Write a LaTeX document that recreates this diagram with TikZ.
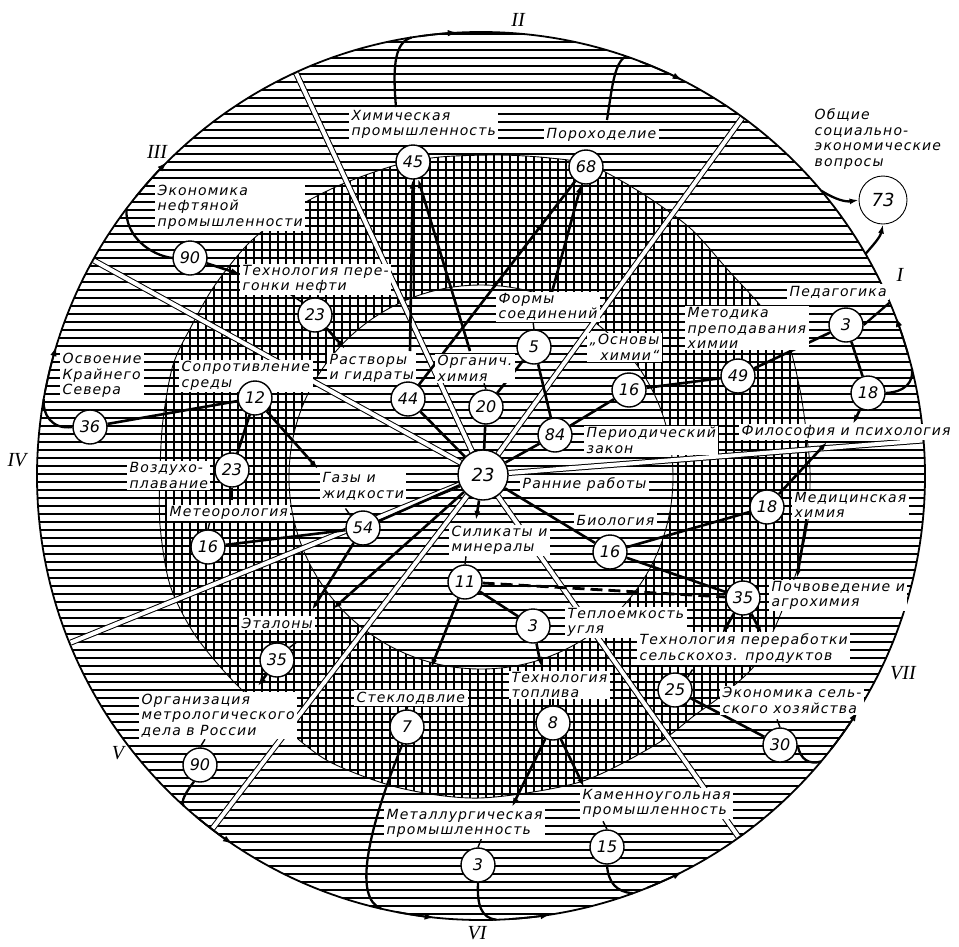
\documentclass[tikz,border=0pt]{standalone}
\usepackage{fontspec}
\setmainfont{DejaVu Sans}
\newfontfamily\labfam[LetterSpace=8]{DejaVu Sans}
\newfontfamily\numfam{DejaVu Sans}
\newfontfamily\romfam{Liberation Serif}
\usetikzlibrary{arrows.meta,decorations.markings,calc}
\pgfdeclarelayer{hatchlayer}
\pgfdeclarelayer{lablayer}
\pgfdeclarelayer{nodelayer}
\pgfsetlayers{hatchlayer,main,lablayer,nodelayer}
\newcommand\labsize{\labfam\itshape\fontsize{14}{15.5}\selectfont}
\newcommand\numsize{\numfam\itshape\fontsize{16}{16}\selectfont}
\newcommand\bignumsize{\numfam\itshape\fontsize{18}{18}\selectfont}
\newcommand\romsize{\romfam\itshape\fontsize{20}{20}\selectfont}
\newcommand\myCircArrow[2]{\draw[line width=1.8pt,-{Latex[length=10pt,width=6.5pt]}] ($(O)+(#1:444)$) arc[start angle=#1, end angle=#2, radius=444];}
\tikzset{
  hatch/.style={line width=1.25pt},
  bound/.style={line width=0.9pt},
  num/.style={circle, draw, line width=1.4pt, fill=white, minimum size=34pt, inner sep=0pt, font=\numsize},
  lab/.style={fill=white, inner xsep=2.5pt, inner ysep=1.5pt, align=left, font=\labsize, anchor=west},
  rom/.style={font=\romsize},
  edge/.style={line width=2.6pt},
  tick/.style={line width=1.4pt},
  tip/.style={-{Latex[length=9pt,width=6pt]}},
  sep/.style={draw=black, double=white, line width=1pt, double distance=4pt},
  midarrow/.style={postaction={decorate}, decoration={markings, mark=at position #1 with {\arrow{Latex[length=9pt,width=6pt]}}}},
  flowline/.style={line width=2.3pt},
}
\begin{document}
\begin{tikzpicture}[x=1pt,y=-1pt]
\useasboundingbox (0,0) rectangle (959,946);
\coordinate (O) at (481,476);
\coordinate (I) at (481,477);

% ---------------- hatching ----------------
\begin{pgfonlayer}{hatchlayer}
 \fill[white] (0,0) rectangle (959,946);
 \begin{scope}
  \clip (O) circle[radius=444];
  \foreach \y in {34,42,...,922} \draw[hatch] (30,\y) -- (932,\y);
 \end{scope}
 \begin{scope}
  \clip plot[smooth cycle] coordinates {(396,165) (440,157) (500,155) (550,158) (590,165) (640,192) (690,228) (728,270) (760,305) (787,340) (800,390) (806,430) (810,470) (808,520) (797,570) (776,625) (755,665) (725,693) (695,715) (655,745) (580,782) (480,798) (400,788) (330,762) (285,728) (235,683) (195,635) (170,585) (160,525) (160,470) (163,420) (173,365) (192,325) (215,285) (250,242) (292,210) (340,185)};
  \foreach \x in {150,158,...,830} \draw[hatch] (\x,140) -- (\x,810);
 \end{scope}
 \draw[bound] plot[smooth cycle] coordinates {(396,165) (440,157) (500,155) (550,158) (590,165) (640,192) (690,228) (728,270) (760,305) (787,340) (800,390) (806,430) (810,470) (808,520) (797,570) (776,625) (755,665) (725,693) (695,715) (655,745) (580,782) (480,798) (400,788) (330,762) (285,728) (235,683) (195,635) (170,585) (160,525) (160,470) (163,420) (173,365) (192,325) (215,285) (250,242) (292,210) (340,185)};
 \fill[white] (I) circle[radius=192];
 \begin{scope}
  \clip (I) circle[radius=192];
  \foreach \y in {34,42,...,922} \draw[hatch] (280,\y) -- (680,\y);
 \end{scope}
 \draw[bound] (I) circle[radius=192];
\end{pgfonlayer}

% ---------------- number nodes ----------------
\begin{pgfonlayer}{nodelayer}
\node[num, minimum size=50pt, font=\bignumsize] (n23c) at (483,475) {23};
\node[num] (n45) at (413,162) {45};
\node[num] (n68) at (586,167) {68};
\node[num, minimum size=48pt, line width=0.9pt, font=\bignumsize] (n73) at (883,200) {73};
\node[num] (n90a) at (190,258) {90};
\node[num] (n23b) at (315,315) {23};
\node[num] (n5) at (534,347) {5};
\node[num] (n3a) at (846,325) {3};
\node[num] (n49) at (738,376) {49};
\node[num] (n18a) at (868,393) {18};
\node[num] (n16a) at (629,390) {16};
\node[num] (n84) at (555,435) {84};
\node[num] (n20) at (486,407) {20};
\node[num] (n44) at (408,399) {44};
\node[num] (n12) at (255,398) {12};
\node[num] (n36) at (90,427) {36};
\node[num] (n23d) at (232,470) {23};
\node[num] (n16b) at (208,547) {16};
\node[num] (n54) at (363,528) {54};
\node[num] (n11) at (465,582) {11};
\node[num] (n3b) at (533,626) {3};
\node[num] (n16c) at (610,552) {16};
\node[num] (n18b) at (767,507) {18};
\node[num] (n35a) at (743,598) {35};
\node[num] (n25) at (675,690) {25};
\node[num] (n30) at (780,745) {30};
\node[num] (n35b) at (277,660) {35};
\node[num] (n90b) at (200,765) {90};
\node[num] (n7) at (407,727) {7};
\node[num] (n8) at (553,723) {8};
\node[num] (n3c) at (478,865) {3};
\node[num] (n15) at (607,847) {15};
\end{pgfonlayer}

% ---------------- labels ----------------
\begin{pgfonlayer}{lablayer}
\node[lab] (L1) at (349,124.5) {Химическая\\промышленность};
\node[lab] (L2) at (544,135) {Пороходелие};
\node[lab, fill=none] (L3) at (812,139) {Общие\\социально-\\экономические\\вопросы};
\node[lab] (L4) at (155,207) {Экономика\\нефтяной\\промышленности};
\node[lab] (L5) at (240,279.5) {Технология пере-\\гонки нефти};
\node[lab] (L6) at (179,376) {Сопротивление\\среды};
\node[lab] (L7) at (60,375.5) {Освоение\\Крайнего\\Севера};
\node[lab] (L8) at (327,368.5) {Растворы\\и гидраты};
\node[lab] (L9) at (435,368.5) {Органич.\\химия};
\node[lab] (L10) at (496,307) {Формы\\соединений};
\node[lab, align=right] (L11) at (587,347.5) {„Основы\\химии“};
\node[lab] (L12) at (685,328) {Методика\\преподавания\\химии};
\node[lab] (L13) at (787,292) {Педагогика};
\node[lab] (L14) at (584,440.5) {Периодический\\закон};
\node[lab] (L15) at (739,432) {Философия и психология};
\node[lab] (L16) at (520,485) {Ранние работы};
\node[lab] (L17) at (574,520) {Биология};
\node[lab] (L18) at (792,505) {Медицинская\\химия};
\node[lab] (L19) at (449,540.5) {Силикаты и\\минералы};
\node[lab] (L20) at (769,595.5) {Почвоведение и\\агрохимия};
\node[lab] (L21) at (565,622.5) {Теплоемкость\\угля};
\node[lab] (L22) at (637,648.5) {Технология переработки\\сельскохоз. продуктов};
\node[lab] (L23) at (720,700.5) {Экономика сель-\\ского хозяйства};
\node[lab] (L24) at (320,486.5) {Газы и\\жидкости};
\node[lab] (L25) at (127,475.5) {Воздухо-\\плавание};
\node[lab] (L26) at (167,513) {Метеорология};
\node[lab] (L27) at (239,623) {Эталоны};
\node[lab] (L28) at (139,715.5) {Организация\\метрологического\\дела в России};
\node[lab] (L29) at (354,698) {Стеклодвлие};
\node[lab] (L30) at (509,685) {Технология\\топлива};
\node[lab] (L31) at (384,823.5) {Металлургическая\\промышленность};
\node[lab] (L32) at (580,803.5) {Каменноугольная\\промышленность};
\end{pgfonlayer}

% sector numerals
\node[rom] (r1) at (900,275) {I};
\node[rom] (r2) at (518,20) {II};
\node[rom] (r3) at (157,152) {III};
\node[rom] (r4) at (17,460) {IV};
\node[rom] (r5) at (118,753) {V};
\node[rom] (r6) at (477,933) {VI};
\node[rom] (r7) at (903,673) {VII};

% ---------------- separators ----------------
\foreach \a [count=\i] in {245.35,209.1,306.1,355.4,157.9,127.3,54.5}
  \coordinate (s\i) at ($(O)+(\a:443)$);
\foreach \i in {1,...,7} \draw[sep] (n23c) -- (s\i);

% ---------------- free ends ----------------
\coordinate (a1) at (476,520);
\coordinate (a2) at (333,609);
\coordinate (a3) at (312,610);
\coordinate (a4) at (410,351);
\coordinate (a5) at (470,351);
\coordinate (a6) at (552,292);
\coordinate (a7) at (853,424);
\coordinate (a8) at (827,442);
\coordinate (a9) at (431,668);
\coordinate (a10) at (541,666);
\coordinate (a11) at (722,634);
\coordinate (a12) at (762,634);
\coordinate (a13) at (512,807);
\coordinate (a14) at (584,787);
\coordinate (a15) at (318,469);
\coordinate (a16) at (240,274);
\coordinate (a17) at (345,349);
\coordinate (a18) at (258,686);
\coordinate (a19) at (806,523);
\coordinate (a20) at (797,578);

% ---------------- edges ----------------
\draw[edge] (n23c) -- (n44);
\draw[edge] (n23c) -- (n20);
\draw[edge] (n23c) -- (n84);
\draw[edge] (n23c) -- (n54);
\draw[edge] (n23c) -- (n16c);
\draw[edge,tip] (n23c) -- (a1);
\draw[edge,tip] (n23c) -- (a2);
\draw[edge,midarrow=0.8] (n44) -- (n68);
\draw[edge,tip] (a4) -- (n45);
\draw[edge,tip] (a5) -- (n45);
\draw[edge,tip] (a6) -- (n68);
\draw[edge] (n5) -- (n20);
\draw[edge] (n5) -- (n84);
\draw[edge] (n84) -- (n16a);
\draw[edge] (n16a) -- (n49);
\draw[edge] (n49) -- (n3a);
\draw[edge] (n3a) -- (n18a);
\draw[edge,tip] (n18a) -- (a7);
\draw[edge,tip] (n18b) -- (a8);
\draw[edge] (n16c) -- (n18b);
\draw[edge] (n16c) -- (n35a);
\draw[line width=2.8pt, dash pattern=on 12pt off 6pt] (n11) -- (n35a);
\draw[edge] (n11) -- (n3b);
\draw[edge,tip] (n11) -- (a9);
\draw[edge,tip] (n3b) -- (a10);
\draw[edge,tip] (n35a) -- (a11);
\draw[edge,tip] (n35a) -- (a12);
\draw[edge] (n25) -- (n30);
\draw[edge,tip] (n8) -- (a13);
\draw[edge,tip] (n8) -- (a14);
\draw[edge] (n54) -- (n16b);
\draw[edge,tip] (n54) -- (a3);
\draw[edge] (n12) -- (n36);
\draw[edge] (n12) -- (n23d);
\draw[edge,tip] (n12) -- (a15);
\draw[edge,tip] (n90a) -- (a16);
\draw[edge,tip] (n23b) -- (a17);
\draw[edge,tip] (n35b) -- (a18);
\draw[edge,tip] (a19) -- (a20);

% label ticks
\draw[tick] (n5.north) -- ++(-1,-8);
\draw[tick] (n20.north) -- ++(-2,-6);
\draw[tick] (n11.north) -- ++(1,-8);
\draw[tick] (n8.north) -- ++(0,-8);
\draw[tick] (n7.north) -- ++(2,-8);
\draw[tick] (n25.north east) -- ++(5,-8);
\draw[tick] (n30.north) -- ++(-3,-8);
\draw[tick] (n16b.north) -- ++(2,-8);
\draw[tick] (n23d.south) -- ++(0,12);
\draw[tick] (n54.north west) -- ++(-5,-7);
\draw[tick] (n3c.north) -- ++(4,-10);
\draw[tick] (n15.north) -- ++(-4,-8);
\draw[tick] (n90b.north) -- ++(5,-8);
\draw[tick] (n23b.north west) -- ++(-12,-8);
\draw[tick] (n35b.north east) -- ++(8,-6);

% ---------------- outer circle and flows ----------------
\draw[line width=1.8pt] (O) circle[radius=444];
\coordinate (c1) at (396,107);
\coordinate (c2) at (607,120);
\coordinate (j217) at ($(O)+(217:444)$);
\coordinate (j190) at ($(O)+(190:444)$);
\coordinate (j261) at ($(O)+(261:444)$);
\coordinate (j289) at ($(O)+(289:444)$);
\coordinate (j320) at ($(O)+(320:444)$);
\coordinate (jm14) at ($(O)+(-14:444)$);
\coordinate (jm23) at ($(O)+(-23:444)$);
\coordinate (jm30) at ($(O)+(-30:444)$);
\coordinate (j40) at ($(O)+(40:444)$);
\coordinate (j70) at ($(O)+(70:444)$);
\coordinate (j88) at ($(O)+(88:444)$);
\coordinate (j103) at ($(O)+(103:444)$);
\coordinate (j132) at ($(O)+(132:444)$);

\draw[flowline] (n90a.west) .. controls (150,255) and (125,236) .. (j217);
\draw[flowline] (n36.west) .. controls (52,430) and (42,414) .. (j190);
\draw[flowline] (c1) .. controls (392,62) and (396,42) .. (j261);
\draw[flowline] (c2) .. controls (612,88) and (614,64) .. (j289);
\draw[flowline,tip] (j320) .. controls (836,200) and (846,202) .. (n73.west);
\draw[flowline] (n3a.east) -- (jm23);
\draw[flowline] (n18a.east) .. controls (905,392) and (914,382) .. (jm14);
\draw[flowline,tip] (jm30) .. controls (872,246) and (880,238) .. (n73.south);
\draw[flowline] (n30.east) .. controls (800,760) and (810,765) .. (j40);
\draw[flowline] (n15.south) .. controls (608,882) and (616,892) .. (j70);
\draw[flowline] (n3c.south) .. controls (477,905) and (481,918) .. (j88);
\draw[flowline] (n7.255) .. controls (366,835) and (354,898) .. (j103);
\draw[flowline] (n90b.250) .. controls (186,792) and (180,802) .. (j132);

\myCircArrow{191}{197}
\myCircArrow{219}{225}
\myCircArrow{262}{267}
\myCircArrow{291}{297}
\myCircArrow{130}{124}
\myCircArrow{101}{96}
\myCircArrow{86}{81}
\myCircArrow{68}{63}
\myCircArrow{38}{32}
\myCircArrow{-16}{-21}
\end{tikzpicture}
\end{document}
